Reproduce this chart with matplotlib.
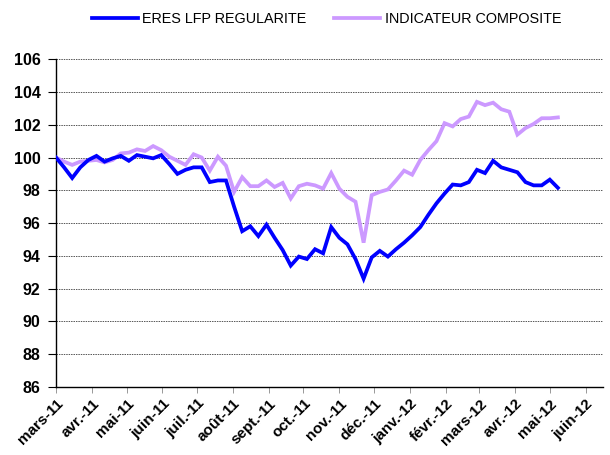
import matplotlib
matplotlib.use("Agg")
import matplotlib.pyplot as plt
import matplotlib.dates as mdates
import pandas as pd
import datetime as dt

plt.rcParams['font.family'] = ['Liberation Sans', 'DejaVu Sans']

series_names = ["ERES LFP REGULARITE", "INDICATEUR COMPOSITE"]

eres = [100.0, 99.4, 98.75, 99.4, 99.85, 100.1, 99.75, 99.95, 100.1, 99.8,
        100.15, 100.05, 99.95, 100.15, 99.6, 99.0, 99.25, 99.4, 99.4, 98.5,
        98.6, 98.6, 97.0, 95.5, 95.8, 95.2, 95.9, 95.1, 94.35, 93.4,
        93.95, 93.8, 94.4, 94.15, 95.75, 95.1, 94.7, 93.8, 92.6, 93.9,
        94.3, 93.95, 94.4, 94.8, 95.25, 95.75, 96.5, 97.2, 97.8, 98.35,
        98.3, 98.5, 99.25, 99.05, 99.8, 99.4, 99.25, 99.1, 98.5, 98.3,
        98.3, 98.65, 98.15]

composite = [100.0, 99.75, 99.55, 99.75, 99.8, 99.85, 99.7, 99.85, 100.25, 100.3,
             100.5, 100.4, 100.7, 100.45, 100.05, 99.8, 99.55, 100.2, 100.0, 99.2,
             100.05, 99.5, 97.9, 98.8, 98.25, 98.25, 98.6, 98.2, 98.45, 97.5,
             98.25, 98.4, 98.3, 98.1, 99.05, 98.1, 97.6, 97.3, 94.8, 97.7,
             97.9, 98.05, 98.6, 99.2, 98.95, 99.85, 100.45, 101.0, 102.1, 101.9,
             102.35, 102.5, 103.4, 103.2, 103.35, 102.95, 102.8, 101.4, 101.8, 102.05,
             102.4, 102.4, 102.45]

dates = pd.date_range("2011-03-01", periods=len(eres), freq="7D")

month_ticks = pd.date_range("2011-03-01", "2012-06-01", freq="MS")
month_labels = ["mars-11", "avr.-11", "mai-11", "juin-11", "juil.-11", "août-11",
                "sept.-11", "oct.-11", "nov.-11", "déc.-11", "janv.-12", "févr.-12",
                "mars-12", "avr.-12", "mai-12", "juin-12"]

y_ticks = list(range(86, 107, 2))

fig = plt.figure(figsize=(6.1, 4.55), dpi=100)
ax = fig.add_axes([0.0918, 0.150, 0.8967, 0.7197])

l1, = ax.plot(dates, eres, color="#0000FF", lw=2.7, solid_joinstyle="miter",
              label=series_names[0], zorder=3)
l2, = ax.plot(dates, composite, color="#CC99FF", lw=2.7, solid_joinstyle="miter",
              label=series_names[1], zorder=2)

ax.set_ylim(86, 106)
ax.set_yticks(y_ticks)
ax.set_yticklabels([str(v) for v in y_ticks], fontweight="bold", fontsize=11.5)
ax.set_xlim(mdates.date2num(dt.datetime(2011, 3, 1)),
            mdates.date2num(dt.datetime(2012, 6, 16)))
ax.set_xticks(month_ticks)
ax.set_xticklabels(month_labels, rotation=45, ha="right", rotation_mode="anchor",
                   fontweight="bold", fontsize=11)

ax.grid(axis="y", linestyle=(0, (1.5, 1.0)), color="#555555", linewidth=0.7)
ax.set_axisbelow(True)
for s in ["top", "right"]:
    ax.spines[s].set_visible(False)
ax.spines["left"].set_linewidth(1.0)
ax.spines["bottom"].set_linewidth(1.0)
ax.tick_params(axis="y", direction="out", length=6, width=0.8, pad=5)
ax.tick_params(axis="x", direction="out", length=4, width=0.6, color="#888888", pad=3)

fig.legend(handles=[l1, l2], loc="center", bbox_to_anchor=(0.535, 0.958), ncol=2,
           frameon=False, fontsize=10.4, handlelength=3.2, columnspacing=1.9,
           handletextpad=0.3)

fig.savefig("out.png", dpi=100)
